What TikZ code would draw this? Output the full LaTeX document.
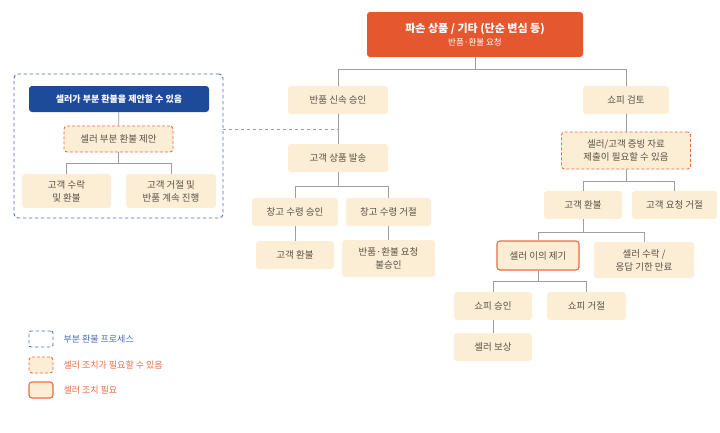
\documentclass[tikz,border=0pt]{standalone}
\usepackage{fontspec}
\setmainfont{Noto Sans CJK KR}
\usepackage{xcolor}
\usepackage{tikz}

\definecolor{hdr}{HTML}{E5582F}
\definecolor{navy}{HTML}{1E4A9A}
\definecolor{cream}{HTML}{FBEED5}
\definecolor{txt}{HTML}{5A5146}
\definecolor{wire}{HTML}{9E9E9E}
\definecolor{dashor}{HTML}{EC6A42}
\definecolor{dashbl}{HTML}{4C6DB3}

\tikzset{
  box/.style={fill=cream, rounded corners=3pt, text=txt, font=\fontsize{9.5}{13}\selectfont, align=center, inner sep=0pt},
  maybe/.style={box, draw=dashor, dash pattern=on 3pt off 2pt, line width=0.9pt},
  must/.style={box, draw=dashor, line width=1.1pt},
  conn/.style={draw=wire, line width=0.8pt},
  legtext/.style={anchor=west, font=\fontsize{9}{11}\selectfont},
}

\begin{document}
\begin{tikzpicture}[x=1pt, y=-1pt]
  \useasboundingbox (0,0) rectangle (720,432);

  % request
  \node[fill=hdr, rounded corners=3pt, text=white, align=center, minimum width=216pt, minimum height=45pt, inner sep=0pt] (req) at (475,34.5)
    {{\fontsize{11}{13}\selectfont\bfseries 파손 상품 / 기타 (단순 변심 등)}\\[1pt]{\fontsize{8.5}{10}\selectfont 반품·환불 요청}};

  % return path
  \node[box, minimum width=100pt, minimum height=28pt] (fast) at (338,100) {반품 신속 승인};
  \node[box, minimum width=100pt, minimum height=28pt] (ship) at (338,158) {고객 상품 발송};
  \node[box, minimum width=86pt, minimum height=28pt] (wok) at (295,212) {창고 수령 승인};
  \node[box, minimum width=85pt, minimum height=28pt] (wno) at (388.5,212) {창고 수령 거절};
  \node[box, minimum width=78pt, minimum height=28pt] (ref1) at (295,255) {고객 환불};
  \node[box, minimum width=93pt, minimum height=37pt] (deny) at (388.5,258.5) {반품·환불 요청\\불승인};

  % shopee review path
  \node[box, minimum width=86pt, minimum height=28pt] (rev) at (626,100) {쇼피 검토};
  \node[maybe, minimum width=129pt, minimum height=37pt] (proof) at (626,150.5) {셀러/고객 증빙 자료\\제출이 필요할 수 있음};
  \node[box, minimum width=78pt, minimum height=28pt] (ref2) at (583,205) {고객 환불};
  \node[box, minimum width=85pt, minimum height=28pt] (rej) at (674.5,205) {고객 요청 거절};
  \node[must, minimum width=82pt, minimum height=29pt] (obj) at (538,255.5) {셀러 이의 제기};
  \node[box, minimum width=100pt, minimum height=36pt] (acc) at (644,260) {셀러 수락 /\\응답 기한 만료};
  \node[box, minimum width=78pt, minimum height=28pt] (sok) at (493,306) {쇼피 승인};
  \node[box, minimum width=79pt, minimum height=28pt] (sno) at (586.5,306) {쇼피 거절};
  \node[box, minimum width=78pt, minimum height=28pt] (comp) at (493,347) {셀러 보상};

  % partial refund
  \node[draw=dashbl, dash pattern=on 3.5pt off 2.5pt, line width=0.9pt, rounded corners=4pt, minimum width=209pt, minimum height=144pt, inner sep=0pt] (part) at (118.5,146) {};
  \node[fill=navy, rounded corners=3pt, text=white, font=\fontsize{9}{11}\selectfont\bfseries, minimum width=180pt, minimum height=26pt, inner sep=0pt] (can) at (119,99) {셀러가 부분 환불을 제안할 수 있음};
  \node[maybe, minimum width=109pt, minimum height=26pt] (offer) at (118.5,139) {셀러 부분 환불 제안};
  \node[box, minimum width=89pt, minimum height=34pt] (cyes) at (66.5,191) {고객 수락\\및 환불};
  \node[box, minimum width=90pt, minimum height=34pt] (cno) at (171,191) {고객 거절 및\\반품 계속 진행};

  % connectors
  \draw[conn] (req.south) -- ++(0,12) -| (fast.north);
  \draw[conn] (req.south) -- ++(0,12) -| (rev.north);
  \draw[conn] (fast) -- (ship);
  \draw[conn] (ship.south) -- ++(0,14) -| (wok.north);
  \draw[conn] (ship.south) -- ++(0,14) -| (wno.north);
  \draw[conn] (wok) -- (ref1);
  \draw[conn] (wno) -- (deny);
  \draw[conn] (rev) -- (proof);
  \draw[conn] (proof.south) -- ++(0,12) -| (ref2.north);
  \draw[conn] (proof.south) -- ++(0,12) -| (rej.north);
  \draw[conn] (ref2.south) -- ++(0,13) -| (obj.north);
  \draw[conn] (ref2.south) -- ++(0,13) -| (acc.north);
  \draw[conn] (obj.south) -- ++(0,11) -| (sok.north);
  \draw[conn] (obj.south) -- ++(0,11) -| (sno.north);
  \draw[conn] (sok) -- (comp);
  \draw[conn] (can) -- (offer);
  \draw[conn] (offer.south) -- ++(0,11) -| (cyes.north);
  \draw[conn] (offer.south) -- ++(0,11) -| (cno.north);
  \draw[conn, dashed] (part.east |- 0,129) -- (fast.south |- 0,129);

  % legend
  \node[draw=dashbl, dash pattern=on 3.5pt off 2.5pt, line width=0.9pt, rounded corners=2pt, minimum width=24pt, minimum height=16pt, inner sep=0pt] (leg1) at (41,339) {};
  \node[maybe, minimum width=24pt, minimum height=16pt] (leg2) at (41,365) {};
  \node[must, minimum width=24pt, minimum height=16pt] (leg3) at (41,390) {};
  \node[legtext, text=dashbl] at (60,339) {부분 환불 프로세스};
  \node[legtext, text=dashor] at (60,365) {셀러 조치가 필요할 수 있음};
  \node[legtext, text=dashor] at (60,390) {셀러 조치 필요};
\end{tikzpicture}
\end{document}
